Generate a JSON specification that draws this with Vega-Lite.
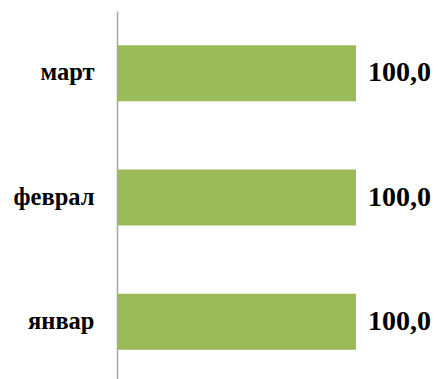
{
  "$schema": "https://vega.github.io/schema/vega-lite/v6.json",
  "autosize": "none",
  "width": 239,
  "height": 373,
  "padding": {"top": 11, "left": 117, "right": 85, "bottom": 0},
  "background": "white",
  "data": {"values": [
    {"month": "март", "value": 100.0},
    {"month": "феврал", "value": 100.0},
    {"month": "январ", "value": 100.0}
  ]},
  "encoding": {
    "y": {"field": "month", "type": "nominal", "sort": null,
      "scale": {"paddingInner": 0.55, "paddingOuter": 0.275},
      "axis": {"title": null, "ticks": false, "domainColor": "#a6a6a6", "domainWidth": 1.5,
        "labelFont": "Liberation Serif", "labelFontWeight": "bold", "labelFontSize": 24.5,
        "labelColor": "#000000", "labelPadding": 23}},
    "x": {"field": "value", "type": "quantitative", "scale": {"domain": [0, 100]}, "axis": null}
  },
  "layer": [
    {"mark": {"type": "bar", "color": "#9BBB59"}},
    {"mark": {"type": "text", "align": "left", "dx": 12, "dy": 0, "font": "Liberation Serif", "fontWeight": "bold", "fontSize": 28, "color": "#000000"},
     "encoding": {"text": {"field": "value", "type": "quantitative", "format": ".1f"}}}
  ],
  "config": {"view": {"stroke": null}, "locale": {"number": {"decimal": ",", "thousands": " ", "grouping": [3], "currency": ["", ""]}}}
}
